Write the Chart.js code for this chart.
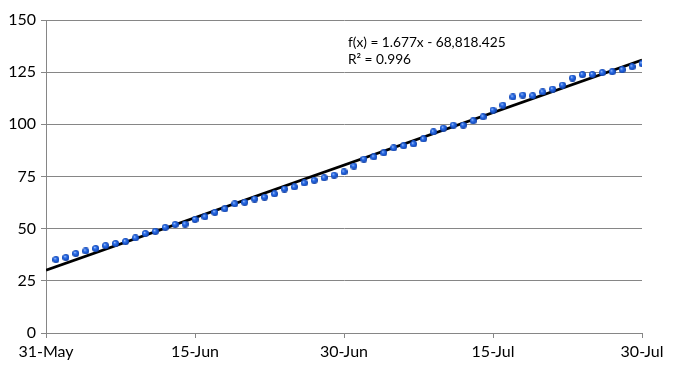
<!DOCTYPE html>
<html><head><meta charset="utf-8">
<script src="https://cdn.jsdelivr.net/npm/chart.js@4"></script>
<style>html,body{margin:0;padding:0;background:#fff;overflow:hidden}#wrap{width:682px;height:379px;position:relative}</style>
</head><body><div id="wrap"><canvas id="c" width="682" height="379"></canvas></div>
<script>
// day number since 31-May (1 = 1-Jun ... 60 = 30-Jul)
const dayNumbers = [1,2,3,4,5,6,7,8,9,10,11,12,13,14,15,16,17,18,19,20,
  21,22,23,24,25,26,27,28,29,30,31,32,33,34,35,36,37,38,39,40,
  41,42,43,44,45,46,47,48,49,50,51,52,53,54,55,56,57,58,59,60];
const values = [35.2,36.2,38.1,39.3,40.5,41.9,42.9,43.8,45.6,47.7,
  48.7,50.6,52.0,52.2,54.4,55.7,57.8,59.5,61.9,62.6,
  64.2,65.1,66.7,69.0,70.0,71.9,73.2,74.4,75.6,77.2,
  80.0,83.3,84.4,86.3,88.7,89.7,90.6,93.0,96.4,98.2,
  99.6,99.6,101.7,103.6,106.8,109.2,113.1,114.0,113.7,115.5,
  116.9,118.8,122.2,123.8,123.9,124.8,125.2,126.2,127.6,129.1];
const xTickValues = [0,15,30,45,60];
const xTickLabels = ["31-May","15-Jun","30-Jun","15-Jul","30-Jul"];
const equationText = "f(x) = 1.677x - 68,818.425";
const r2Text = "R\u00B2 = 0.996";

// least-squares trendline through the data
const n = dayNumbers.length;
const mx = dayNumbers.reduce((a,b)=>a+b,0)/n;
const my = values.reduce((a,b)=>a+b,0)/n;
let sxy=0, sxx=0;
for (let i=0;i<n;i++){ sxy+=(dayNumbers[i]-mx)*(values[i]-my); sxx+=(dayNumbers[i]-mx)**2; }
const slope = sxy/sxx, intercept = my - slope*mx;
const trendX = [xTickValues[0], xTickValues[xTickValues.length-1]];
const trendPts = trendX.map(x=>({x, y: intercept + slope*x}));

// sphere point image
function sphere(d){
  const c=document.createElement('canvas'); c.width=d; c.height=d;
  const g=c.getContext('2d');
  const r=d/2;
  const gr=g.createRadialGradient(r*0.7,r*0.65,0.2,r,r,r);
  gr.addColorStop(0,'#a8c8ff');
  gr.addColorStop(0.35,'#2f6fe6');
  gr.addColorStop(0.8,'#1450c8');
  gr.addColorStop(1,'#0d3896');
  g.fillStyle=gr; g.beginPath(); g.arc(r,r,r,0,Math.PI*2); g.fill();
  return c;
}
const dot = sphere(7);

const gridColor = '#868686';
const font = {family:'Lato', size:16};

const textPlugin = {
  id:'eq',
  afterDatasetsDraw(chart){
    const {ctx, scales:{x,y}} = chart;
    ctx.save();
    ctx.fillStyle='#000';
    ctx.font='13.7px Lato';
    ctx.textAlign='left';
    ctx.textBaseline='middle';
    const px = x.getPixelForValue(30.4);
    ctx.fillText(equationText, px, y.getPixelForValue(139.2));
    ctx.fillText(r2Text, px, y.getPixelForValue(131.0));
    ctx.restore();
  }
};

new Chart(document.getElementById('c'), {
  type:'scatter',
  data:{
    datasets:[
      {
        label:'data',
        data: dayNumbers.map((d,i)=>({x:d,y:values[i]})),
        pointStyle: dot,
        pointRadius: 3.5,
        order: 1
      },
      {
        label:'trend',
        type:'line',
        data: trendPts,
        borderColor:'#000',
        borderWidth:2.8,
        pointRadius:0,
        fill:false,
        order: 2
      }
    ]
  },
  options:{
    responsive:false,
    devicePixelRatio:1,
    animation:false,
    layout:{padding:{top:20,right:40,left:0,bottom:0}},
    plugins:{legend:{display:false},tooltip:{enabled:false}},
    scales:{
      x:{
        type:'linear', min:0, max:60,
        afterBuildTicks(s){ s.ticks = xTickValues.map(v=>({value:v})); },
        ticks:{ callback:(v)=>xTickLabels[xTickValues.indexOf(v)], font, color:'#000', padding:4, maxRotation:0, autoSkip:false },
        grid:{ drawOnChartArea:false, drawTicks:true, tickLength:5, color:gridColor },
        border:{ color:gridColor },
        afterFit(s){ s.height = 46; }
      },
      y:{
        min:0, max:150,
        ticks:{ stepSize:25, font, color:'#000', padding:5 },
        grid:{ color:gridColor, tickLength:5 },
        border:{ color:gridColor },
        afterFit(s){ s.width = 46; }
      }
    }
  },
  plugins:[textPlugin]
});
</script></body></html>
